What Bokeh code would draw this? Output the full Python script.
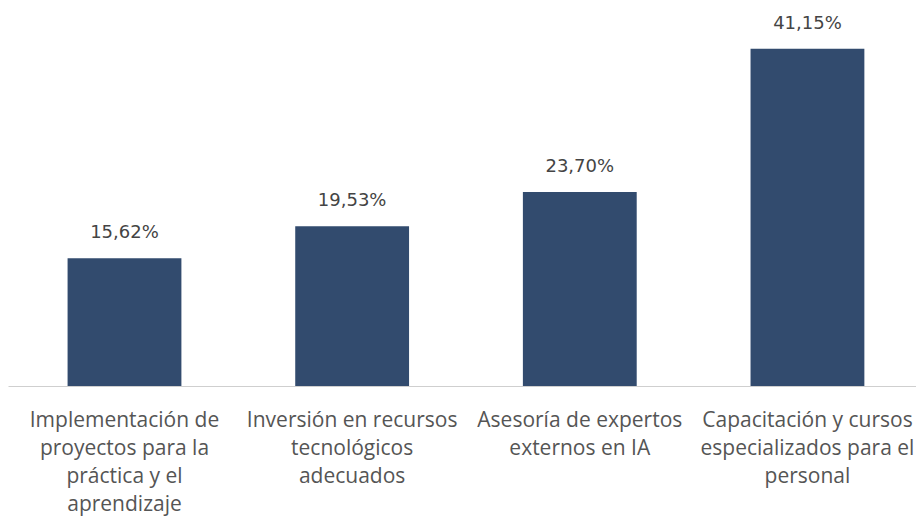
from bokeh.plotting import figure
from bokeh.models import ColumnDataSource, Range1d, FixedTicker, LabelSet
from bokeh.core.properties import value
from bokeh.embed import file_html
from bokeh.resources import INLINE

categories = [
    "Implementación de\nproyectos para la\npráctica y el\naprendizaje",
    "Inversión en recursos\ntecnológicos\nadecuados",
    "Asesoría de expertos\nexternos en IA",
    "Capacitación y cursos\nespecializados para el\npersonal",
]
values = [15.62, 19.53, 23.70, 41.15]
value_labels = ["15,62%", "19,53%", "23,70%", "41,15%"]

xs = list(range(len(values)))
src = ColumnDataSource(dict(x=xs, top=values, lab=value_labels))

p = figure(width=916, height=520, output_backend="svg", toolbar_location=None,
           x_range=Range1d(-0.5095, 3.479), y_range=Range1d(0, 46.04),
           min_border_left=8, min_border_right=0, min_border_top=8, min_border_bottom=134)
p.vbar(x="x", top="top", width=0.5, bottom=0, source=src,
       fill_color="#324b6e", line_color=None)

labels = LabelSet(x="x", y="top", text="lab", source=src, y_offset=20,
                  text_align="center", text_baseline="alphabetic",
                  text_font=value("DejaVu Sans"), text_font_size="18px",
                  text_color="#444444")
p.add_layout(labels)

p.yaxis.visible = False
p.xgrid.visible = False
p.ygrid.visible = False
p.outline_line_color = None
p.background_fill_color = "white"
p.border_fill_color = "white"

ax = p.xaxis[0]
ax.ticker = FixedTicker(ticks=xs)
ax.major_label_overrides = {i: c for i, c in zip(xs, categories)}
ax.major_tick_line_color = None
ax.minor_tick_line_color = None
ax.axis_line_color = "#cfcfcf"
ax.axis_line_width = 1
ax.major_label_standoff = 12
ax.major_label_text_font = "Open Sans"
ax.major_label_text_font_size = "21px"
ax.major_label_text_color = "#555555"
ax.major_label_text_line_height = 1.0

open("out.html", "w").write(file_html(p, INLINE))
